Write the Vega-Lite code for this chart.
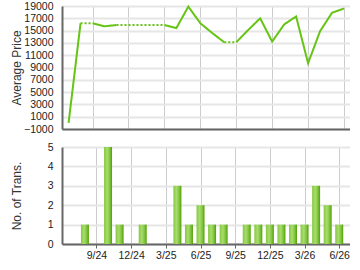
{
  "$schema": "https://vega.github.io/schema/vega-lite/v6.json",
  "padding": {"left": 10, "top": 1, "right": 0, "bottom": 0},
  "background": "white",
  "spacing": 7,
  "config": {
    "view": {"stroke": null},
    "font": "Liberation Sans",
    "axis": {
      "labelFont": "Liberation Sans",
      "titleFont": "Liberation Sans",
      "labelFontSize": 10.5,
      "titleFontSize": 12,
      "titleFontWeight": "normal",
      "labelColor": "#222222",
      "titleColor": "#333333",
      "domainColor": "#666666",
      "domainWidth": 2,
      "tickColor": "#666666",
      "gridColor": "#dddddd"
    }
  },
  "datasets": {
    "price": [
      {"m": 1, "v": 0, "seg": "a", "t": "solid"},
      {"m": 2, "v": 16200, "seg": "a", "t": "solid"},
      {"m": 2, "v": 16200, "seg": "b", "t": "dot"},
      {"m": 3, "v": 16200, "seg": "b", "t": "dot"},
      {"m": 3, "v": 16200, "seg": "c", "t": "solid"},
      {"m": 4, "v": 15700, "seg": "c", "t": "solid"},
      {"m": 5, "v": 15900, "seg": "c", "t": "solid"},
      {"m": 5, "v": 15900, "seg": "d", "t": "dot"},
      {"m": 6, "v": 15900, "seg": "d", "t": "dot"},
      {"m": 7, "v": 15900, "seg": "d", "t": "dot"},
      {"m": 8, "v": 15900, "seg": "d", "t": "dot"},
      {"m": 9, "v": 15900, "seg": "d", "t": "dot"},
      {"m": 9, "v": 15900, "seg": "e", "t": "solid"},
      {"m": 10, "v": 15400, "seg": "e", "t": "solid"},
      {"m": 11, "v": 18900, "seg": "e", "t": "solid"},
      {"m": 12, "v": 16200, "seg": "e", "t": "solid"},
      {"m": 13, "v": 14600, "seg": "e", "t": "solid"},
      {"m": 14, "v": 13100, "seg": "e", "t": "solid"},
      {"m": 14, "v": 13100, "seg": "f", "t": "dot"},
      {"m": 15, "v": 13100, "seg": "f", "t": "dot"},
      {"m": 15, "v": 13100, "seg": "g", "t": "solid"},
      {"m": 16, "v": 15100, "seg": "g", "t": "solid"},
      {"m": 17, "v": 17000, "seg": "g", "t": "solid"},
      {"m": 18, "v": 13200, "seg": "g", "t": "solid"},
      {"m": 19, "v": 16000, "seg": "g", "t": "solid"},
      {"m": 20, "v": 17300, "seg": "g", "t": "solid"},
      {"m": 21, "v": 9700, "seg": "g", "t": "solid"},
      {"m": 22, "v": 14900, "seg": "g", "t": "solid"},
      {"m": 23, "v": 17900, "seg": "g", "t": "solid"},
      {"m": 24, "v": 18600, "seg": "g", "t": "solid"}
    ],
    "trans": [
      {"m": 2, "n": 1},
      {"m": 4, "n": 5},
      {"m": 5, "n": 1},
      {"m": 7, "n": 1},
      {"m": 10, "n": 3},
      {"m": 11, "n": 1},
      {"m": 12, "n": 2},
      {"m": 13, "n": 1},
      {"m": 14, "n": 1},
      {"m": 16, "n": 1},
      {"m": 17, "n": 1},
      {"m": 18, "n": 1},
      {"m": 19, "n": 1},
      {"m": 20, "n": 1},
      {"m": 21, "n": 1},
      {"m": 22, "n": 3},
      {"m": 23, "n": 2},
      {"m": 24, "n": 1}
    ]
  },
  "vconcat": [
    {
      "width": 288,
      "height": 123,
      "data": {"name": "price"},
      "mark": {"type": "line", "color": "#66c414", "strokeWidth": 2},
      "encoding": {
        "x": {
          "field": "m",
          "type": "quantitative",
          "scale": {"domain": [0.45, 24.5], "nice": false, "zero": false},
          "axis": {
            "values": [3, 6, 9, 12, 15, 18, 21, 24],
            "labels": false,
            "ticks": false,
            "title": null,
            "grid": true,
            "gridColor": "#cccccc"
          }
        },
        "y": {
          "field": "v",
          "type": "quantitative",
          "scale": {"domain": [-1000, 19000], "nice": false, "zero": false},
          "axis": {
            "values": [-1000, 1000, 3000, 5000, 7000, 9000, 11000, 13000, 15000, 17000, 19000],
            "format": "d",
            "title": "Average Price",
            "titlePadding": 0,
            "ticks": false,
            "labelPadding": 9,
            "gridColor": "#e6e6e6",
            "gridWidth": 2
          }
        },
        "detail": {"field": "seg"},
        "strokeDash": {
          "field": "t",
          "type": "nominal",
          "scale": {"domain": ["solid", "dot"], "range": [[1, 0], [2, 2]]},
          "legend": null
        }
      }
    },
    {
      "width": 288,
      "height": 97,
      "data": {"name": "trans"},
      "mark": {
        "type": "bar",
        "width": 8,
        "color": {
          "x1": 0, "x2": 1, "y1": 0, "y2": 0,
          "gradient": "linear",
          "stops": [
            {"offset": 0, "color": "#86c940"},
            {"offset": 0.4, "color": "#a9dc6e"},
            {"offset": 0.75, "color": "#7cc23a"},
            {"offset": 1, "color": "#4f9e00"}
          ]
        }
      },
      "encoding": {
        "x": {
          "field": "m",
          "type": "quantitative",
          "scale": {"domain": [0.45, 24.5], "nice": false, "zero": false},
          "axis": {
            "values": [3, 6, 9, 12, 15, 18, 21, 24],
            "labelExpr": "((datum.value + 5) % 12 + 1) + '/' + (24 + floor((datum.value + 5) / 12))",
            "title": null,
            "grid": true,
            "gridColor": "#cccccc",
            "tickSize": 4,
            "labelPadding": 2
          }
        },
        "y": {
          "field": "n",
          "type": "quantitative",
          "scale": {"domain": [0, 5], "nice": false},
          "axis": {
            "values": [0, 1, 2, 3, 4, 5],
            "title": "No. of Trans.",
            "titlePadding": 24,
            "ticks": false,
            "labelPadding": 9,
            "gridColor": "#e6e6e6",
            "gridWidth": 2
          }
        }
      }
    }
  ]
}
